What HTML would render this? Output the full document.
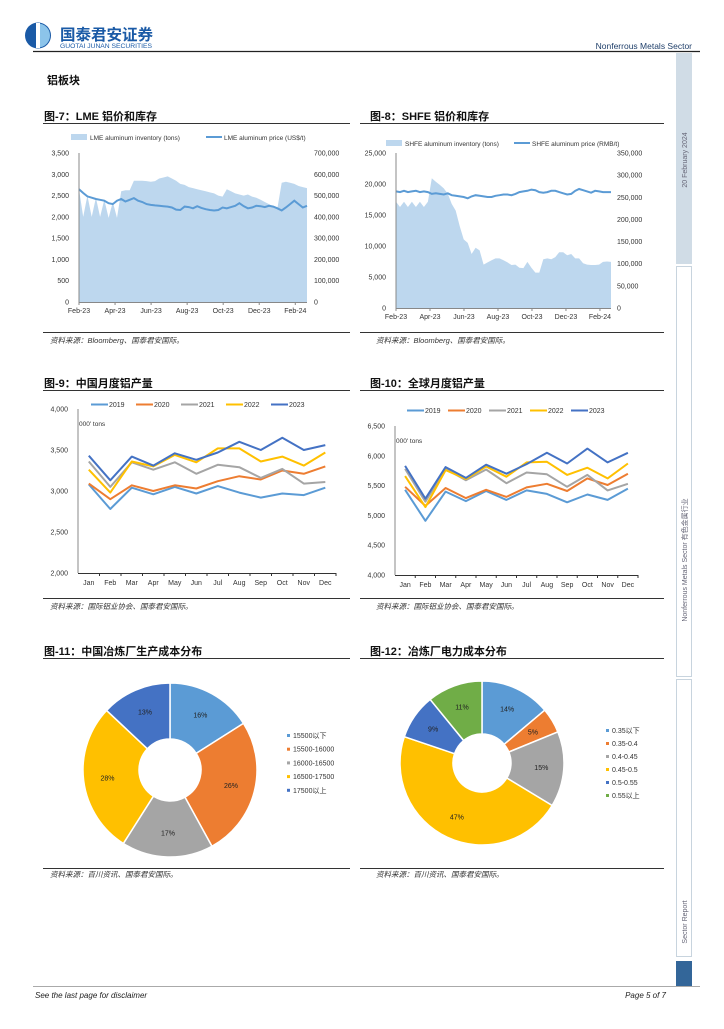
<!DOCTYPE html>
<html><head><meta charset="utf-8">
<style>
html,body{margin:0;padding:0;background:#fff;}
body{width:724px;height:1024px;overflow:hidden;font-family:"Liberation Sans","Noto Sans CJK SC",sans-serif;}
svg text{font-family:"Liberation Sans","Noto Sans CJK SC",sans-serif;}
</style></head>
<body>
<svg id="page" width="724" height="1024" viewBox="0 0 724 1024" xmlns="http://www.w3.org/2000/svg">
<!-- header -->
<g>
  <g>
    <circle cx="38" cy="35.5" r="13" fill="#1a5aa6"/>
    <path d="M38 23.5 A12 12 0 0 1 38 47.5 Z" fill="#8cc4ea"/>
    <rect x="36" y="23" width="4" height="25" fill="#fff"/>
    <text x="60" y="40" font-size="15.5" font-weight="bold" fill="#1a5aa6">国泰君安证券</text>
    <text x="60" y="48" font-size="6" fill="#1a5aa6" textLength="92" lengthAdjust="spacingAndGlyphs">GUOTAI JUNAN SECURITIES</text>
  </g>
  <text x="692" y="49" font-size="8.5" text-anchor="end" fill="#1f3f6a">Nonferrous  Metals  Sector</text>
  <line x1="33" y1="51.5" x2="700" y2="51.5" stroke="#222" stroke-width="1.2"/>
  <text x="47" y="84" font-size="11" font-weight="bold" fill="#111">铝板块</text>
</g>
<!-- sidebar -->
<g>
  <rect x="676" y="53" width="16" height="211" fill="#d0dce6"/>
  <rect x="676.5" y="266.5" width="15" height="410" fill="#fff" stroke="#c8d4de"/>
  <rect x="676.5" y="679.5" width="15" height="277" fill="#fff" stroke="#c8d4de"/>
  <rect x="676" y="961" width="16" height="25" fill="#336699"/>
  <text transform="translate(687,160) rotate(-90)" font-size="7" fill="#667" text-anchor="middle">20 February 2024</text>
  <text transform="translate(687,560) rotate(-90)" font-size="7" fill="#667" text-anchor="middle">Nonferrous Metals Sector 有色金属行业</text>
  <text transform="translate(687,922) rotate(-90)" font-size="7" fill="#667" text-anchor="middle">Sector Report</text>
</g>
<!-- footer -->
<g>
  <line x1="33" y1="986.5" x2="700" y2="986.5" stroke="#aaa" stroke-width="1"/>
  <text x="35" y="998" font-size="8" font-style="italic" fill="#222">See  the last page for disclaimer</text>
  <text x="666" y="998" font-size="8" font-style="italic" fill="#222" text-anchor="end">Page 5 of 7</text>
</g>
<!-- titles, rules, sources -->
<g>
  <text x="44" y="120" font-size="11" font-weight="bold" fill="#111">图-7：LME 铝价和库存</text>
  <line x1="43" y1="123.5" x2="350" y2="123.5" stroke="#333"/>
  <line x1="43" y1="332.5" x2="350" y2="332.5" stroke="#333"/>
  <text x="50" y="343" font-size="7.5" font-style="italic" fill="#333">资料来源：Bloomberg、国泰君安国际。</text>

  <text x="370" y="120" font-size="11" font-weight="bold" fill="#111">图-8：SHFE 铝价和库存</text>
  <line x1="360" y1="123.5" x2="664" y2="123.5" stroke="#333"/>
  <line x1="360" y1="332.5" x2="664" y2="332.5" stroke="#333"/>
  <text x="376" y="343" font-size="7.5" font-style="italic" fill="#333">资料来源：Bloomberg、国泰君安国际。</text>

  <text x="44" y="387" font-size="11" font-weight="bold" fill="#111">图-9：中国月度铝产量</text>
  <line x1="43" y1="390.5" x2="350" y2="390.5" stroke="#333"/>
  <line x1="43" y1="598.5" x2="350" y2="598.5" stroke="#333"/>
  <text x="50" y="609" font-size="7.5" font-style="italic" fill="#333">资料来源：国际铝业协会、国泰君安国际。</text>

  <text x="370" y="387" font-size="11" font-weight="bold" fill="#111">图-10：全球月度铝产量</text>
  <line x1="360" y1="390.5" x2="664" y2="390.5" stroke="#333"/>
  <line x1="360" y1="598.5" x2="664" y2="598.5" stroke="#333"/>
  <text x="376" y="609" font-size="7.5" font-style="italic" fill="#333">资料来源：国际铝业协会、国泰君安国际。</text>

  <text x="44" y="655" font-size="11" font-weight="bold" fill="#111">图-11：中国冶炼厂生产成本分布</text>
  <line x1="43" y1="658.5" x2="350" y2="658.5" stroke="#333"/>
  <line x1="43" y1="868.5" x2="350" y2="868.5" stroke="#333"/>
  <text x="50" y="877" font-size="7.5" font-style="italic" fill="#333">资料来源：百川资讯、国泰君安国际。</text>

  <text x="370" y="655" font-size="11" font-weight="bold" fill="#111">图-12：冶炼厂电力成本分布</text>
  <line x1="360" y1="658.5" x2="664" y2="658.5" stroke="#333"/>
  <line x1="360" y1="868.5" x2="664" y2="868.5" stroke="#333"/>
  <text x="376" y="877" font-size="7.5" font-style="italic" fill="#333">资料来源：百川资讯、国泰君安国际。</text>
</g>
<g id="charts"></g>
</svg>
<script>
// ---------- Fig 7 LME ----------
const lmeInventory = [530000,400000,500000,400000,490000,400000,480000,395000,470000,395000,520000,525000,525000,570000,570000,570000,568000,565000,568000,580000,585000,590000,580000,570000,555000,550000,540000,535000,530000,525000,520000,515000,510000,500000,495000,530000,520000,510000,505000,500000,505000,495000,490000,480000,470000,460000,450000,440000,560000,565000,560000,555000,545000,540000,535000];
const lmePrice = [2650,2560,2480,2450,2420,2400,2380,2320,2300,2380,2420,2360,2400,2440,2380,2350,2300,2280,2270,2260,2250,2240,2220,2170,2160,2240,2230,2200,2250,2210,2180,2160,2150,2160,2220,2200,2230,2260,2320,2250,2200,2220,2260,2250,2230,2260,2240,2200,2150,2220,2300,2380,2300,2220,2260];
const lmeLeftTicks = ["0","500","1,000","1,500","2,000","2,500","3,000","3,500"];
const lmeRightTicks = ["0","100,000","200,000","300,000","400,000","500,000","600,000","700,000"];
const dateLabels = ["Feb-23","Apr-23","Jun-23","Aug-23","Oct-23","Dec-23","Feb-24"];
// ---------- Fig 8 SHFE ----------
const shfeInventory = [240000,228000,240000,228000,240000,228000,240000,228000,240000,293000,285000,278000,270000,258000,235000,220000,185000,155000,147000,122000,136000,130000,98000,103000,108000,112000,112000,108000,103000,97000,98000,91000,90000,104000,91000,80000,80000,110000,112000,110000,115000,126000,126000,119000,122000,112000,112000,101000,98000,97000,97000,98000,104000,105000,104000];
const shfePrice = [18800,18700,18900,18700,18800,18900,18700,18800,18700,18400,18500,18400,18300,18500,18200,18100,18000,17900,17700,18000,18200,18100,18000,17900,17900,18100,18200,18300,18300,18200,18400,18700,18800,18900,19100,19000,18700,18600,18700,18900,18900,18700,18500,18300,18400,18900,19200,19000,18800,18600,18900,18800,18700,18700,18700];
const shfeLeftTicks = ["0","5,000","10,000","15,000","20,000","25,000"];
const shfeRightTicks = ["0","50,000","100,000","150,000","200,000","250,000","300,000","350,000"];
// ---------- Fig 9 / 10 ----------
const months = ["Jan","Feb","Mar","Apr","May","Jun","Jul","Aug","Sep","Oct","Nov","Dec"];
const years = ["2019","2020","2021","2022","2023"];
const yearColors = ["#5B9BD5","#ED7D31","#A5A5A5","#FFC000","#4472C4"];
const china2019 = [3080,2780,3040,2960,3050,2970,3060,2980,2920,2970,2950,3040];
const china2020 = [3090,2900,3070,3000,3070,3030,3120,3180,3140,3250,3210,3300];
const china2021 = [3360,3050,3350,3260,3350,3210,3320,3290,3160,3270,3090,3110];
const china2022 = [3260,2980,3360,3300,3440,3350,3520,3520,3360,3420,3310,3470];
const china2023 = [3430,3130,3420,3310,3460,3380,3470,3600,3500,3650,3500,3560];
const chinaTicks = ["2,000","2,500","3,000","3,500","4,000"];
const world2019 = [5430,4910,5400,5240,5410,5260,5420,5360,5220,5350,5260,5450];
const world2020 = [5480,5160,5460,5290,5430,5310,5470,5530,5410,5620,5510,5700];
const world2021 = [5780,5230,5780,5590,5770,5540,5720,5690,5480,5680,5420,5530];
const world2022 = [5660,5140,5760,5610,5820,5650,5890,5900,5680,5800,5620,5870];
const world2023 = [5830,5280,5810,5630,5850,5700,5860,6050,5870,6120,5890,6050];
const worldTicks = ["4,000","4,500","5,000","5,500","6,000","6,500"];
// ---------- Fig 11 / 12 ----------
const costLabels = ["15500以下","15500-16000","16000-16500","16500-17500","17500以上"];
const costShares = [16,26,17,28,13];
const powerLabels = ["0.35以下","0.35-0.4","0.4-0.45","0.45-0.5","0.5-0.55","0.55以上"];
const powerShares = [14,5,15,47,9,11];
const pieColors = ["#5B9BD5","#ED7D31","#A5A5A5","#FFC000","#4472C4","#70AD47"];

const NS="http://www.w3.org/2000/svg";
const root=document.getElementById('charts');
function mk(tag,attrs,parent,txt){const e=document.createElementNS(NS,tag);for(const k in attrs)e.setAttribute(k,attrs[k]);if(txt!==undefined)e.textContent=txt;(parent||root).appendChild(e);return e;}
function num(s){return parseFloat(s.replace(/,/g,''));}

function dualChart(o){
  const g=mk('g',{});
  
  
  const lMax=num(o.lt[o.lt.length-1]), rMax=num(o.rt[o.rt.length-1]);
  const yL=v=>o.y0-(v/lMax)*(o.y0-o.y1);
  const yR=v=>o.y0-(v/rMax)*(o.y0-o.y1);
  const n=o.inv.length;
  const x=i=>o.x0+i*(o.x1-o.x0)/(n-1);
  let d='M'+o.x0+' '+o.y0;
  o.inv.forEach((v,i)=>{d+=' L'+x(i).toFixed(1)+' '+yR(v).toFixed(1);});
  d+=' L'+o.x1+' '+o.y0+' Z';
  const area=mk('path',{d:d,fill:'#BDD7EE'},g);
  
  
  const pts=o.price.map((v,i)=>x(i).toFixed(1)+','+yL(v).toFixed(1)).join(' ');
  const line=mk('polyline',{points:pts,fill:'none',stroke:'#5B9BD5','stroke-width':2},g);
  
  
  mk('line',{x1:o.x0,y1:o.y1,x2:o.x0,y2:o.y0,stroke:'#888'},g);
  mk('line',{x1:o.x0,y1:o.y0+0.5,x2:o.x1,y2:o.y0+0.5,stroke:'#888'},g);
  o.lt.forEach(t=>{const tx=mk('text',{x:o.x0-10,y:yL(num(t))+2.5,'font-size':7,'text-anchor':'end',fill:'#333'},g,t);
    });
  o.rt.forEach(t=>{const tx=mk('text',{x:o.rx,y:yR(num(t))+2.5,'font-size':7,fill:'#333'},g,t);
    });
  const step=(o.x1-o.x0)*2/12.65;
  dateLabels.forEach((t,i)=>{const px=o.x0+i*step;
    mk('line',{x1:px,y1:o.y0,x2:px,y2:o.y0+3,stroke:'#888'},g);
    const tx=mk('text',{x:px,y:o.y0+11,'font-size':7,'text-anchor':'middle',fill:'#333'},g,t);
    });
  const lg=mk('g',{},g);
  
  
  mk('rect',{x:o.lx,y:o.ly-4,width:16,height:6,fill:'#BDD7EE'},lg);
  mk('text',{x:o.lx+19,y:o.ly+2,'font-size':6.5,fill:'#333'},lg,o.l1);
  mk('line',{x1:o.lx2,y1:o.ly-1,x2:o.lx2+16,y2:o.ly-1,stroke:'#5B9BD5','stroke-width':2},lg);
  mk('text',{x:o.lx2+18,y:o.ly+2,'font-size':6.5,fill:'#333'},lg,o.l2);
}
dualChart({name:'lme-chart',inv:lmeInventory,price:lmePrice,lt:lmeLeftTicks,rt:lmeRightTicks,x0:79,x1:307,y0:302,y1:153,rx:314,
  lx:71,lx2:206,ly:138,l1:'LME aluminum inventory (tons)',l2:'LME aluminum price (US$/t)'});
dualChart({name:'shfe-chart',inv:shfeInventory,price:shfePrice,lt:shfeLeftTicks,rt:shfeRightTicks,x0:396,x1:611,y0:308,y1:153,rx:617,
  lx:386,lx2:514,ly:144,l1:'SHFE aluminum inventory (tons)',l2:'SHFE aluminum price (RMB/t)'});

function lineChart(o){
  const g=mk('g',{});
  
  
  const mn=num(o.ticks[0]),mx=num(o.ticks[o.ticks.length-1]);
  const y=v=>o.y0-(v-mn)/(mx-mn)*(o.y0-o.y1);
  const bw=(o.x1-o.x0)/12;
  const x=i=>o.x0+bw*(i+0.5);
  mk('line',{x1:o.x0,y1:o.y1,x2:o.x0,y2:o.y0,stroke:'#888'},g);
  mk('line',{x1:o.x0,y1:o.y0+0.5,x2:o.x1,y2:o.y0+0.5,stroke:'#333'},g);
  o.ticks.forEach(t=>{const tx=mk('text',{x:o.x0-10,y:y(num(t))+2.5,'font-size':7,'text-anchor':'end',fill:'#333'},g,t);
    });
  months.forEach((m,i)=>{mk('line',{x1:o.x0+bw*(i+1),y1:o.y0,x2:o.x0+bw*(i+1),y2:o.y0+3,stroke:'#333'},g);
    const tx=mk('text',{x:x(i),y:o.y0+12,'font-size':7,'text-anchor':'middle',fill:'#333'},g,m);
    });
  const u=mk('text',{x:o.x0+1,y:o.y1+17,'font-size':6.5,fill:'#333'},g,"000' tons");
  
  o.series.forEach((s,k)=>{
    const pl=mk('polyline',{points:s.map((v,i)=>x(i).toFixed(1)+','+y(v).toFixed(1)).join(' '),fill:'none',stroke:yearColors[k],'stroke-width':2,'stroke-linejoin':'round'},g);
    
    
    const lg=mk('g',{},g);
    
    
    const lx=o.lx+k*o.ls;
    mk('line',{x1:lx,y1:o.ly-2.5,x2:lx+17,y2:o.ly-2.5,stroke:yearColors[k],'stroke-width':2},lg);
    mk('text',{x:lx+18,y:o.ly,'font-size':7,fill:'#333'},lg,years[k]);
  });
}
lineChart({name:'china-production-chart',ticks:chinaTicks,series:[china2019,china2020,china2021,china2022,china2023],x0:78,x1:336,y0:573,y1:409,lx:91,ly:407,ls:45});
lineChart({name:'world-production-chart',ticks:worldTicks,series:[world2019,world2020,world2021,world2022,world2023],x0:395,x1:638,y0:575,y1:426,lx:407,ly:413,ls:41});

function donut(o){
  const g=mk('g',{});
  
  
  const tot=o.vals.reduce((a,b)=>a+b,0);
  let a0=-Math.PI/2;
  o.vals.forEach((v,i)=>{
    const a1=a0+v/tot*2*Math.PI;
    const p=(a,r)=>[o.cx+r*Math.cos(a),o.cy+r*Math.sin(a)];
    const [x1,y1]=p(a0,o.R),[x2,y2]=p(a1,o.R),[x3,y3]=p(a1,o.r),[x4,y4]=p(a0,o.r);
    const lg=(a1-a0)>Math.PI?1:0;
    const s=mk('path',{d:`M${x1} ${y1} A${o.R} ${o.R} 0 ${lg} 1 ${x2} ${y2} L${x3} ${y3} A${o.r} ${o.r} 0 ${lg} 0 ${x4} ${y4} Z`,fill:pieColors[i],stroke:'#fff','stroke-width':1.5},g);
    
    
    const am=(a0+a1)/2,[lx,ly]=p(am,(o.R+o.r)/2+4);
    const t=mk('text',{x:lx,y:ly+2.5,'font-size':7,'text-anchor':'middle',fill:'#222'},g,v+'%');
    
    
    const e=mk('g',{},g);
    
    
    mk('rect',{x:o.lx,y:o.ly+i*o.ls-4,width:3,height:3,fill:pieColors[i]},e);
    mk('text',{x:o.lx+6,y:o.ly+i*o.ls,'font-size':7,fill:'#333'},e,o.labels[i]);
    a0=a1;
  });
}
donut({name:'smelter-cost-donut',vals:costShares,labels:costLabels,cx:170,cy:770,R:87,r:31,lx:287,ly:738,ls:13.7});
donut({name:'power-cost-donut',vals:powerShares,labels:powerLabels,cx:482,cy:763,R:82,r:29,lx:606,ly:733,ls:13});
</script>
</body></html>
